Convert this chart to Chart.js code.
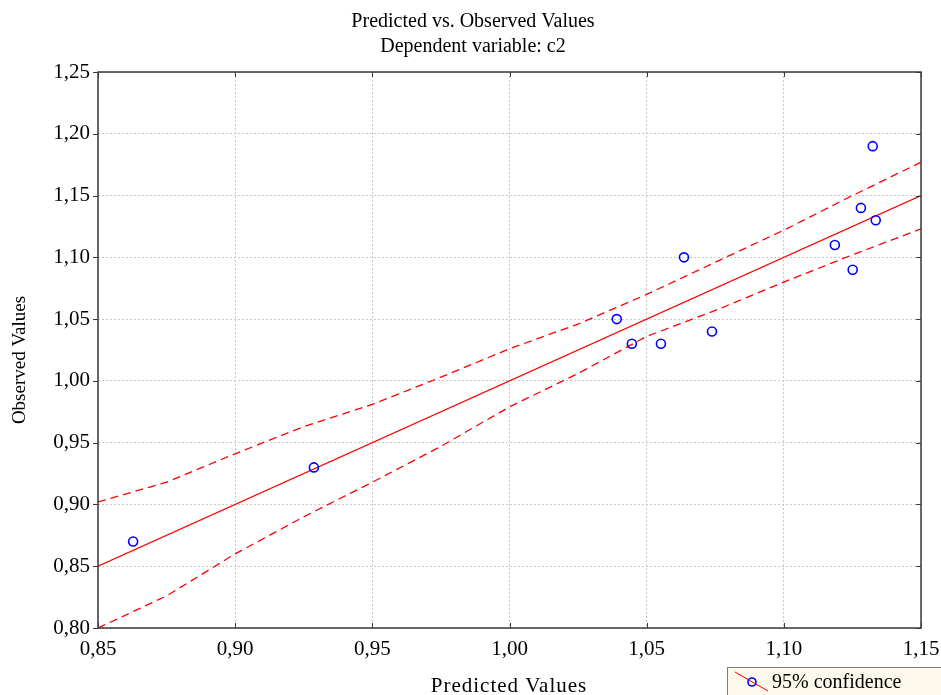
<!DOCTYPE html>
<html>
<head>
<meta charset="utf-8">
<script src="https://cdn.jsdelivr.net/npm/chart.js@4.4.1/dist/chart.umd.min.js"></script>
<style>
html,body{margin:0;padding:0;background:#fff;}
#wrap{width:941px;height:695px;position:relative;}
</style>
</head>
<body>
<div id="wrap"><canvas id="c" width="941" height="695"></canvas></div>
<script>
// ---- data ----
const predicted = [0.8628, 0.9287, 1.0391, 1.0446, 1.0552, 1.0636, 1.0738, 1.1186, 1.1251, 1.1281, 1.1324, 1.1335];
const observed  = [0.87, 0.93, 1.05, 1.03, 1.03, 1.10, 1.04, 1.11, 1.09, 1.14, 1.19, 1.13];

const bandX     = [0.85, 0.875, 0.90, 0.925, 0.95, 0.975, 1.00, 1.025, 1.05, 1.075, 1.10, 1.125, 1.15];
const bandUpper = [0.902, 0.918, 0.941, 0.963, 0.981, 1.003, 1.026, 1.046, 1.070, 1.096, 1.122, 1.150, 1.177];
const bandLower = [0.800, 0.826, 0.860, 0.890, 0.918, 0.947, 0.979, 1.006, 1.036, 1.057, 1.080, 1.102, 1.123];

const fitX = [0.85, 1.15];
const fitY = [0.85, 1.15];

const xTicks = [0.85, 0.90, 0.95, 1.00, 1.05, 1.10, 1.15];
const yTicks = [0.80, 0.85, 0.90, 0.95, 1.00, 1.05, 1.10, 1.15, 1.20, 1.25];

const titleText = 'Predicted vs. Observed Values';
const subtitleText = 'Dependent variable: c2';
const xTitle = 'Predicted Values';
const yTitle = 'Observed Values';
const legendText = '95% confidence';

// ---- build ----
const SERIF = '"Liberation Serif", "Times New Roman", serif';
const fmt = v => v.toFixed(2).replace('.', ',');
const pts = (xs, ys) => xs.map((x, i) => ({x: x, y: ys[i]}));

const decor = {
  id: 'decor',
  afterDraw(chart) {
    const ctx = chart.ctx;
    const a = chart.chartArea;
    const xs = chart.scales.x, ys = chart.scales.y;
    ctx.save();
    // frame
    ctx.strokeStyle = '#3a3a3a';
    ctx.lineWidth = 1.5;
    ctx.strokeRect(a.left, a.top, a.right - a.left, a.bottom - a.top);
    // ticks
    ctx.lineWidth = 1;
    ctx.beginPath();
    xTicks.forEach(v => {
      const px = Math.round(xs.getPixelForValue(v)) + 0.5;
      ctx.moveTo(px, a.bottom); ctx.lineTo(px, a.bottom - 5);
      ctx.moveTo(px, a.top); ctx.lineTo(px, a.top + 5);
    });
    yTicks.forEach(v => {
      const py = Math.round(ys.getPixelForValue(v)) + 0.5;
      ctx.moveTo(a.left, py); ctx.lineTo(a.left - 5, py);
      ctx.moveTo(a.right, py); ctx.lineTo(a.right - 5, py);
    });
    ctx.stroke();

    // titles
    ctx.fillStyle = '#000';
    ctx.textAlign = 'center';
    ctx.textBaseline = 'middle';
    ctx.font = '20px ' + SERIF;
    ctx.fillText(titleText, 473, 22);
    ctx.fillText(subtitleText, 473, 47);

    // x axis title
    ctx.font = '21px ' + SERIF;
    try { ctx.letterSpacing = '1px'; } catch (e) {}
    ctx.fillText(xTitle, 509, 686);
    try { ctx.letterSpacing = '0px'; } catch (e) {}

    // y axis title
    ctx.save();
    ctx.translate(20, 360);
    ctx.rotate(-Math.PI / 2);
    ctx.font = '19px ' + SERIF;
    ctx.fillText(yTitle, 0, 0);
    ctx.restore();

    // legend box
    ctx.fillStyle = '#fdf8ec';
    ctx.fillRect(727.5, 667.5, 240, 40);
    ctx.strokeStyle = '#808080';
    ctx.lineWidth = 1;
    ctx.strokeRect(727.5, 667.5, 240, 40);
    ctx.strokeStyle = '#ff0000';
    ctx.lineWidth = 1;
    ctx.beginPath();
    ctx.moveTo(735, 672); ctx.lineTo(768, 691);
    ctx.stroke();
    ctx.strokeStyle = '#0000ff';
    ctx.lineWidth = 1.6;
    ctx.beginPath();
    ctx.arc(752, 682, 4, 0, Math.PI * 2);
    ctx.stroke();
    ctx.fillStyle = '#000';
    ctx.textAlign = 'left';
    ctx.font = '20px ' + SERIF;
    ctx.fillText(legendText, 772, 683);
    ctx.restore();
  }
};

new Chart(document.getElementById('c'), {
  type: 'scatter',
  data: {
    datasets: [
      {
        label: 'points',
        data: pts(predicted, observed),
        pointStyle: 'circle',
        pointRadius: 4.5,
        pointBorderWidth: 1.6,
        pointBorderColor: '#0000ff',
        pointBackgroundColor: 'rgba(0,0,0,0)',
        showLine: false,
        order: 0
      },
      {
        label: 'fit',
        data: pts(fitX, fitY),
        showLine: true,
        borderColor: '#ff0000',
        borderWidth: 1.2,
        pointRadius: 0,
        order: 1
      },
      {
        label: 'upper',
        data: pts(bandX, bandUpper),
        showLine: true,
        borderColor: '#ff0000',
        borderWidth: 1.3,
        borderDash: [8, 5],
        pointRadius: 0,
        order: 2
      },
      {
        label: 'lower',
        data: pts(bandX, bandLower),
        showLine: true,
        borderColor: '#ff0000',
        borderWidth: 1.3,
        borderDash: [8, 5],
        pointRadius: 0,
        order: 2
      }
    ]
  },
  options: {
    responsive: false,
    animation: false,
    devicePixelRatio: 1,
    layout: { padding: { left: 0, right: 20, top: 72, bottom: 0 } },
    plugins: {
      legend: { display: false },
      title: { display: false },
      tooltip: { enabled: false }
    },
    scales: {
      x: {
        type: 'linear',
        min: 0.85, max: 1.15,
        afterBuildTicks: s => { s.ticks = xTicks.map(v => ({value: v})); },
        afterFit: s => { s.height = 67; s.paddingRight = 0; s.paddingLeft = 0; },
        ticks: {
          callback: v => fmt(v),
          font: { family: SERIF, size: 21 },
          color: '#000',
          padding: 9,
          maxRotation: 0,
          autoSkip: false
        },
        grid: { color: '#c8c8c8', lineWidth: 1, drawTicks: false },
        border: { display: false, dash: [2, 2] }
      },
      y: {
        type: 'linear',
        min: 0.80, max: 1.25,
        afterBuildTicks: s => { s.ticks = yTicks.map(v => ({value: v})); },
        afterFit: s => { s.width = 98; s.paddingTop = 0; s.paddingBottom = 0; },
        ticks: {
          callback: v => fmt(v),
          font: { family: SERIF, size: 21 },
          color: '#000',
          padding: 8,
          autoSkip: false
        },
        grid: { color: '#c8c8c8', lineWidth: 1, drawTicks: false },
        border: { display: false, dash: [2, 2] }
      }
    }
  },
  plugins: [decor]
});
</script>
</body>
</html>
